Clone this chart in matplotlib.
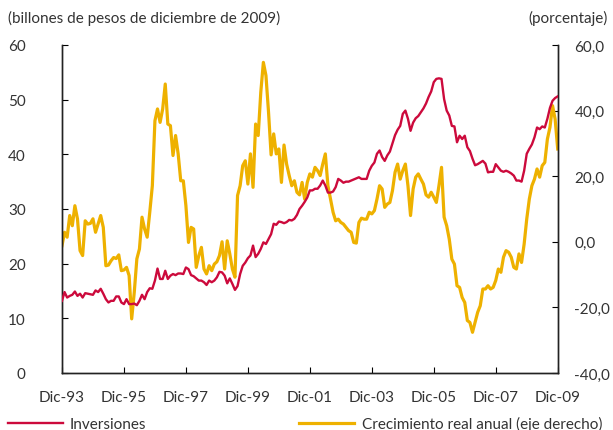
import matplotlib
matplotlib.use("Agg")
import matplotlib.pyplot as plt

plt.rcParams["font.family"] = ["Lato", "DejaVu Sans"]

# monthly data, Dec-1993 .. Dec-2009 (193 months)
tick_labels = ["Dic-93", "Dic-95", "Dic-97", "Dic-99", "Dic-01",
               "Dic-03", "Dic-05", "Dic-07", "Dic-09"]

inversiones = [
    13.2, 14.8, 13.8, 14.1, 14.3, 14.9, 14.1, 14.5, 13.8, 14.6,
    14.5, 14.4, 14.3, 15.1, 14.8, 15.4, 14.5, 13.5, 12.9, 13.2,
    13.2, 14.0, 14.0, 12.9, 12.6, 13.5, 12.6, 12.6, 12.7, 12.4,
    13.2, 14.3, 13.5, 14.8, 15.5, 15.4, 16.9, 19.1, 17.2, 17.2,
    18.7, 17.2, 17.8, 18.1, 17.9, 18.2, 18.2, 18.1, 19.3, 19.0,
    17.9, 17.7, 17.3, 16.9, 16.9, 16.6, 16.1, 16.9, 16.6, 16.9,
    17.5, 18.5, 18.4, 17.8, 16.4, 17.3, 16.3, 15.2, 15.9, 18.1,
    19.6, 20.2, 21.0, 21.5, 23.3, 21.2, 21.8, 22.7, 23.9, 23.6,
    24.5, 25.4, 27.3, 27.1, 27.7, 27.6, 27.4, 27.6, 28.0, 27.9,
    28.2, 28.9, 30.0, 30.6, 31.3, 32.1, 33.4, 33.4, 33.7, 33.7,
    34.3, 35.2, 34.3, 33.0, 33.0, 33.2, 34.0, 35.5, 35.2, 34.8,
    35.0, 35.0, 35.2, 35.4, 35.6, 35.8, 35.5, 35.5, 35.5, 37.0,
    37.9, 38.5, 40.1, 40.7, 39.5, 38.8, 39.8, 40.5, 42.0, 43.5,
    44.5, 45.2, 47.4, 48.0, 46.5, 44.3, 45.8, 46.6, 47.0, 47.7,
    48.4, 49.3, 50.5, 51.5, 53.2, 53.8, 53.9, 53.8, 50.1, 48.0,
    47.1, 45.2, 45.1, 42.2, 43.4, 42.8, 43.4, 41.3, 40.6, 39.2,
    38.0, 38.2, 38.5, 38.8, 38.3, 36.7, 36.8, 36.8, 38.2, 37.6,
    37.0, 36.8, 37.0, 36.8, 36.5, 36.1, 35.2, 35.2, 35.0, 37.0,
    40.1, 41.0, 41.8, 43.1, 44.9, 44.6, 45.1, 44.9, 46.5, 48.5,
    49.8, 50.3, 50.6,
]

crecimiento = [
    -1.2, 2.9, 1.4, 8.0, 4.9, 11.0, 7.0, -2.7, -4.2, 6.4,
    5.4, 5.6, 7.0, 2.9, 5.4, 8.0, 4.4, -7.3, -7.1, -5.8,
    -4.8, -5.1, -4.0, -8.8, -8.6, -7.8, -10.3, -23.5, -15.4, -5.2,
    -2.2, 7.5, 3.9, 1.4, 9.0, 17.1, 36.9, 40.5, 36.4, 40.5,
    48.1, 35.9, 35.4, 26.3, 32.4, 26.8, 18.6, 18.6, 11.0, -0.2,
    4.4, 3.9, -7.8, -4.2, -1.7, -8.3, -9.8, -7.3, -8.8, -6.8,
    -6.1, -4.2, 0.0, -8.3, 0.3, -3.7, -8.3, -10.8, 14.1, 17.1,
    23.2, 24.7, 17.6, 26.8, 16.6, 35.9, 32.4, 45.6, 54.7, 50.7,
    39.5, 26.5, 32.9, 26.8, 28.3, 18.1, 29.5, 23.7, 20.2, 17.1,
    18.6, 15.1, 14.3, 18.1, 13.0, 18.1, 20.7, 19.7, 22.7, 21.7,
    20.2, 23.7, 26.8, 17.1, 13.0, 9.0, 6.4, 6.9, 5.9, 5.4,
    4.4, 3.4, 2.9, -0.2, -0.4, 5.9, 7.2, 6.9, 6.9, 9.0,
    8.5, 9.5, 13.0, 17.1, 16.1, 10.5, 11.5, 12.0, 15.6, 21.2,
    23.7, 19.1, 21.7, 23.7, 17.1, 8.0, 16.1, 19.7, 20.7, 19.1,
    17.6, 14.3, 13.6, 15.1, 13.6, 12.0, 17.1, 22.7, 7.5, 4.9,
    0.8, -5.3, -6.8, -13.4, -13.9, -17.0, -18.5, -24.0, -24.6, -27.6,
    -24.6, -21.5, -19.5, -14.4, -14.4, -13.4, -14.4, -13.9, -11.8, -8.3,
    -9.3, -4.7, -2.7, -3.2, -4.7, -7.8, -8.3, -3.7, -6.3, -0.7,
    6.9, 13.0, 17.1, 19.1, 22.2, 19.7, 23.2, 24.2, 31.3, 34.9,
    41.5, 37.4, 28.3,
]

months = list(range(len(inversiones)))

red = "#CC0a3c"
yellow = "#EEB100"
txt = "#333333"

fig = plt.figure(figsize=(6.13, 4.31), dpi=100)
ax = fig.add_axes([0.1011, 0.1323, 0.8087, 0.761])
ax2 = ax.twinx()

l1, = ax.plot(months, inversiones, color=red, lw=1.7, zorder=3)
l2, = ax2.plot(months, crecimiento, color=yellow, lw=2.3, zorder=2)
ax.set_zorder(ax2.get_zorder() + 1)
ax.patch.set_visible(False)

ax.set_xlim(0, 192)
ax.set_ylim(0, 60)
ax2.set_ylim(-40, 60)
ax.set_yticks(range(0, 61, 10))
ax2.set_yticks(range(-40, 61, 20))
ax2.set_yticklabels([f"{v:.1f}".replace(".", ",") for v in range(-40, 61, 20)])
ax.set_xticks(range(0, 193, 24))
ax.set_xticklabels(tick_labels)

for a in (ax, ax2):
    a.spines["top"].set_visible(False)
    for s in a.spines.values():
        s.set_color("#222222")
        s.set_linewidth(1.0)
ax.tick_params(axis="y", direction="in", length=4, pad=26, labelsize=11,
               labelcolor=txt)
ax.tick_params(axis="x", direction="in", length=4, pad=12, labelsize=11,
               labelcolor=txt)
ax2.tick_params(axis="y", direction="in", length=4, pad=12, labelsize=11,
                labelcolor=txt)

fig.text(8 / 613, 1 - 18 / 431, "(billones de pesos de diciembre de 2009)",
         fontsize=11, color=txt, va="center", ha="left")
fig.text(608 / 613, 1 - 18 / 431, "(porcentaje)",
         fontsize=11, color=txt, va="center", ha="right")

fig.legend([l1], ["Inversiones"], loc="lower left",
           bbox_to_anchor=(-0.004, -0.027),
           frameon=False, fontsize=11, handlelength=3.6, handletextpad=0.4,
           borderaxespad=0.3, labelcolor=txt)
fig.legend([l2], ["Crecimiento real anual (eje derecho)"], loc="lower right",
           bbox_to_anchor=(1.0, -0.027), frameon=False, fontsize=11,
           handlelength=3.6, handletextpad=0.5, borderaxespad=0.3,
           labelcolor=txt)

fig.savefig("out.png", dpi=100)
